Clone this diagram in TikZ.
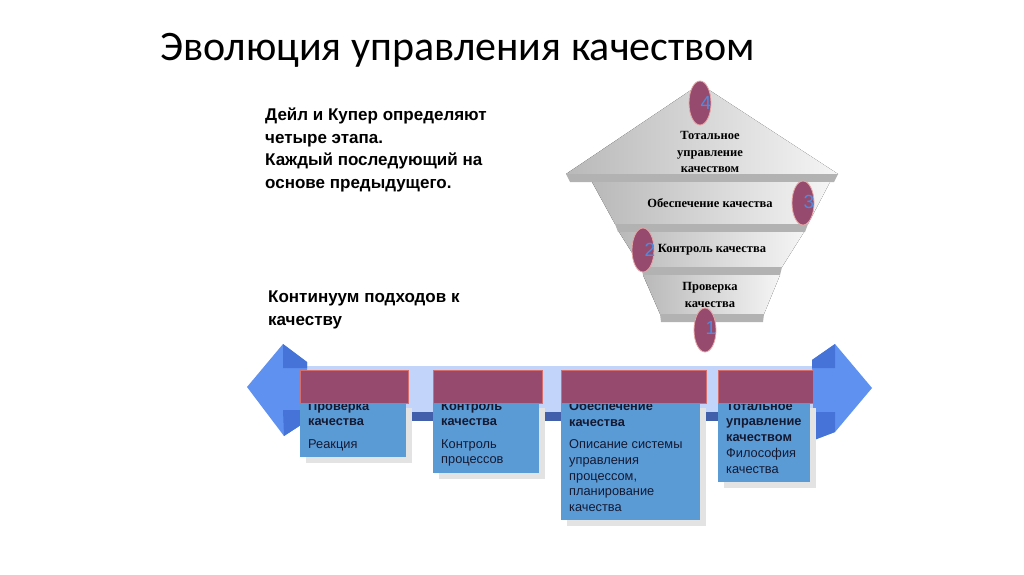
\documentclass[tikz,border=0pt]{standalone}
\usepackage{fontspec}
\setmainfont{Liberation Sans}
\newfontfamily\titlefont{Carlito}
\newfontfamily\serifbold{Liberation Serif}
\usepackage{xcolor}
\usetikzlibrary{shapes.geometric, shadows, positioning}
\definecolor{plum}{RGB}{150,75,110}
\definecolor{plumedge}{RGB}{215,110,110}
\definecolor{bodyblue}{RGB}{91,155,213}
\definecolor{headblue}{RGB}{95,145,240}
\definecolor{headdark}{RGB}{70,115,215}
\definecolor{shaftlight}{RGB}{195,212,250}
\definecolor{stripe}{RGB}{65,95,170}
\definecolor{numblue}{RGB}{75,140,225}
\definecolor{inkdark}{RGB}{20,25,50}
\tikzset{
  headerbox/.style={
    draw=plumedge, fill=plum, line width=0.6pt, inner sep=0pt,
    anchor=north west
  },
  bodybox/.style={
    fill=bodyblue, inner sep=0pt, anchor=north west,
    drop shadow={shadow xshift=6pt, shadow yshift=-6pt,
      fill=gray!22, opacity=1}
  },
  bodytext/.style={
    anchor=north west, inner sep=0pt, align=left, text=inkdark,
    font=\fontsize{12.8}{15.6}\selectfont
  },
  leadtext/.style={
    anchor=north west, inner sep=0pt, align=left,
    font=\fontsize{17}{22.5}\selectfont\bfseries
  },
  layertext/.style={
    align=center, inner sep=0pt,
    font=\fontsize{12.5}{16.5}\selectfont\serifbold\bfseries
  },
  layerface/.style={left color=gray!55, right color=gray!8},
  layerband/.style={fill=gray!60},
  stagemark/.style={
    ellipse, draw=plumedge!60!white, fill=plum, line width=0.8pt,
    minimum width=22pt, minimum height=44pt, inner sep=0pt
  },
  stagenum/.style={
    text=numblue, font=\fontsize{19}{19}\selectfont, inner sep=0pt
  },
}

\begin{document}
\begin{tikzpicture}[x=1pt, y=-1pt]
  \useasboundingbox (0,0) rectangle (1024,574);

  % ---- TITLE ----
  \node[anchor=base west, inner sep=0pt, font=\titlefont\fontsize{42}{42}\selectfont]
    (title) at (160,60) {Эволюция управления качеством};

  % ---- LEFT TEXT ----
  \node[leadtext] (dalecooper) at (265,108)
    {Дейл и Купер определяют\\четыре этапа.\\Каждый последующий на\\основе предыдущего.};
  \node[leadtext] (continuum) at (268,291)
    {Континуум подходов к\\качеству};

  % ---- FUNNEL ----
  % top triangle
  \fill[layerface] (700,84) -- (838,174) -- (566,174) -- cycle;
  \fill[layerband] (566,174) -- (838,174) -- (834,182) -- (570,182) -- cycle;
  % second layer
  \fill[layerface] (592,182) -- (830,182) -- (808,224) -- (615,224) -- cycle;
  \fill[layerband] (615,224) -- (808,224) -- (805,232) -- (618,232) -- cycle;
  % third layer
  \fill[layerface] (619,232) -- (804,232) -- (782,267) -- (641,267) -- cycle;
  \fill[layerband] (641,267) -- (782,267) -- (780,275) -- (643,275) -- cycle;
  % bottom layer
  \fill[layerface] (643,275) -- (780,275) -- (764,314) -- (660,314) -- cycle;
  \fill[layerband] (660,314) -- (764,314) -- (763,322) -- (661,322) -- cycle;

  \node[layertext] (tqmlayer) at (710,152) {Тотальное\\управление\\качеством};
  \node[layertext] (qalayer) at (710,203) {Обеспечение качества};
  \node[layertext] (qclayer) at (712,250) {Контроль качества};
  \node[layertext] (inslayer) at (710,295) {Проверка\\качества};

  % stage markers
  \node[stagemark] (mark4) at (700,103) {};
  \node[stagemark] (mark3) at (803,203) {};
  \node[stagemark] (mark2) at (643,250) {};
  \node[stagemark] (mark1) at (705,330) {};
  \node[stagenum] at (706,103) {4};
  \node[stagenum] at (809,202) {3};
  \node[stagenum] at (650,250) {2};
  \node[stagenum] at (711,328) {1};

  % ---- DOUBLE ARROW ----
  \shade[left color=shaftlight, middle color=white, right color=shaftlight]
    (300,366) rectangle (820,412);
  \fill[stripe] (290,412) rectangle (830,421);
  % left head
  \fill[headblue] (247,387) -- (283,344) -- (307,362) -- (307,421) -- (284,436) -- cycle;
  \fill[headdark] (283,344) -- (307,362) -- (307,368) -- (283,368) -- cycle;
  \fill[headdark] (283,410) -- (307,410) -- (307,421) -- (284,436) -- cycle;
  % right head
  \fill[headblue] (872,388) -- (835,344) -- (812,360) -- (814,440) -- (835,432) -- cycle;
  \fill[headdark] (812,360) -- (835,344) -- (835,368) -- (812,368) -- cycle;
  \fill[headdark] (813,412) -- (835,412) -- (835,432) -- (814,440) -- cycle;

  % ---- STAGE BOXES ----
  \node[bodybox, minimum width=106pt, minimum height=55pt] (insbody) at (300,402) {};
  \node[bodybox, minimum width=106pt, minimum height=71pt] (qcbody) at (433,402) {};
  \node[bodybox, minimum width=139pt, minimum height=118pt] (qabody) at (561,402) {};
  \node[bodybox, minimum width=92pt, minimum height=80pt] (tqmbody) at (718,402) {};

  \node[bodytext] (instext) at (308,401)
    {\textbf{Проверка}\\\textbf{качества}\\[7pt]Реакция};
  \node[bodytext] (qctext) at (441,401)
    {\textbf{Контроль}\\\textbf{качества}\\[7pt]Контроль\\процессов};
  \node[bodytext] (qatext) at (569,401)
    {\textbf{Обеспечение}\\\textbf{качества}\\[7pt]Описание системы\\управления\\процессом,\\планирование\\качества};
  \node[bodytext] (tqmtext) at (726,401)
    {\textbf{Тотальное}\\\textbf{управление}\\\textbf{качеством}\\[1pt]Философия\\качества};

  \node[headerbox, minimum width=108pt, minimum height=33pt] (inshead) at (300,370) {};
  \node[headerbox, minimum width=109pt, minimum height=33pt] (qchead) at (433,370) {};
  \node[headerbox, minimum width=145pt, minimum height=33pt] (qahead) at (561,370) {};
  \node[headerbox, minimum width=95pt, minimum height=33pt] (tqmhead) at (718,370) {};
\end{tikzpicture}
\end{document}
